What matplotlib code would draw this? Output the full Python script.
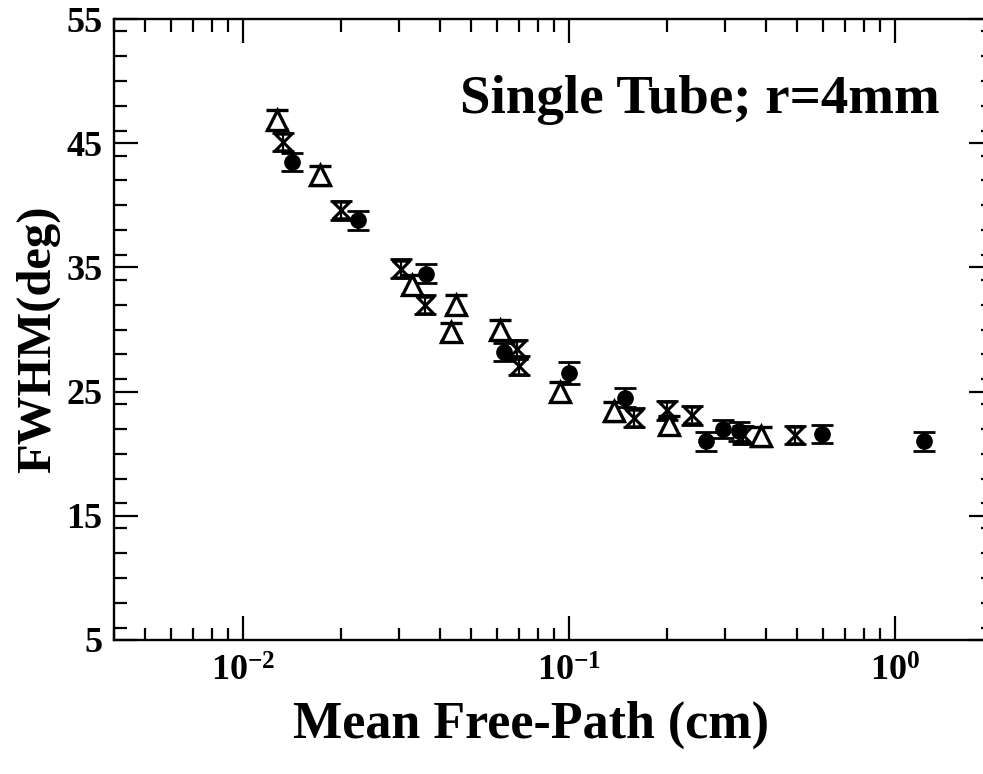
import matplotlib
matplotlib.use("Agg")
import matplotlib.pyplot as plt
from matplotlib.path import Path
from matplotlib.ticker import FixedLocator, MultipleLocator, LogLocator, FixedFormatter, NullFormatter

plt.rcParams['font.family'] = ['Liberation Serif', 'DejaVu Serif']
plt.rcParams['font.weight'] = 'bold'
plt.rcParams['mathtext.fontset'] = 'custom'
plt.rcParams['mathtext.rm'] = 'Liberation Serif:bold'
plt.rcParams['mathtext.it'] = 'Liberation Serif:bold'
plt.rcParams['mathtext.bf'] = 'Liberation Serif:bold'

# Mean free path (cm) and FWHM (deg) for the three measurement sets
tri_x = [0.0127, 0.0172, 0.0330, 0.0448, 0.0433, 0.0613, 0.0937, 0.137, 0.202, 0.388]
tri_y = [46.9, 42.4, 33.6, 32.0, 29.8, 30.0, 25.0, 23.4, 22.3, 21.4]

hg_x = [0.0132, 0.0199, 0.0304, 0.0361, 0.0693, 0.0701, 0.158, 0.200, 0.238, 0.341, 0.493]
hg_y = [45.1, 39.6, 34.9, 32.0, 28.4, 27.1, 22.9, 23.5, 23.1, 21.5, 21.5]

dot_x = [0.0141, 0.0225, 0.0364, 0.0631, 0.0999, 0.148, 0.263, 0.296, 0.332, 0.596, 1.225]
dot_y = [43.5, 38.8, 34.5, 28.2, 26.5, 24.5, 21.0, 22.0, 21.8, 21.6, 21.0]

err = 0.75
dot_err = [0.75, 0.75, 0.75, 0.75, 0.85, 0.75, 0.75, 0.75, 0.75, 0.75, 0.75]

y_major = [5, 15, 25, 35, 45, 55]
x_major = [0.01, 0.1, 1.0]
x_labels = [r'$10^{-2}$', r'$10^{-1}$', r'$10^{0}$']

W, H = 983, 774
fig = plt.figure(figsize=(W / 100, H / 100), dpi=100)
ax = fig.add_axes([113.5 / W, (H - 640) / H, (993.5 - 113.5) / W, 621 / H])

hourglass = Path([(-1, 1), (1, 1), (-1, -1), (1, -1), (-1, 1)],
                 [Path.MOVETO, Path.LINETO, Path.LINETO, Path.LINETO, Path.CLOSEPOLY])

common = dict(ecolor='black', elinewidth=1.6, capsize=8, capthick=2.0, linestyle='none')
ax.errorbar(tri_x, tri_y, yerr=err, fmt='^', ms=14, mfc='white', mec='black', mew=2.4, **common)
ax.errorbar(hg_x, hg_y, yerr=err, fmt='none', **common)
ax.plot(hg_x, hg_y, linestyle='none', marker=hourglass, ms=12, mfc='none', mec='black', mew=2.2)
ax.errorbar(dot_x, dot_y, yerr=dot_err, fmt='o', ms=11, mfc='black', mec='black', **common)

ax.set_xscale('log')
ax.set_xlim(0.004, 2.0)
ax.set_ylim(5, 55)

ax.xaxis.set_major_locator(FixedLocator(x_major))
ax.xaxis.set_major_formatter(FixedFormatter(x_labels))
ax.xaxis.set_minor_locator(LogLocator(base=10, subs=range(2, 10), numticks=20))
ax.xaxis.set_minor_formatter(NullFormatter())
ax.yaxis.set_major_locator(FixedLocator(y_major))
ax.yaxis.set_minor_locator(MultipleLocator(2))

ax.tick_params(which='both', direction='in', top=True, right=True, width=1.6, colors='black')
ax.tick_params(which='major', length=17, labelsize=26)
ax.tick_params(axis='y', which='major', pad=8)
ax.tick_params(axis='x', which='major', pad=11)
ax.tick_params(which='minor', length=9)
for lab in ax.get_xticklabels() + ax.get_yticklabels():
    lab.set_fontweight('bold')
for s in ax.spines.values():
    s.set_linewidth(1.7)

ax.set_xlabel('Mean Free-Path (cm)', fontsize=37.5, fontweight='bold')
ax.xaxis.set_label_coords(0.474, -0.097)
ax.set_ylabel('FWHM(deg)', fontsize=35, fontweight='bold')
ax.yaxis.set_label_coords(-0.061, 0.485)
ax.text(0.939, 0.87, 'Single Tube; r=4mm', transform=ax.transAxes, ha='right', va='center',
        fontsize=39.5, fontweight='bold')

fig.savefig('out.png', dpi=100)
